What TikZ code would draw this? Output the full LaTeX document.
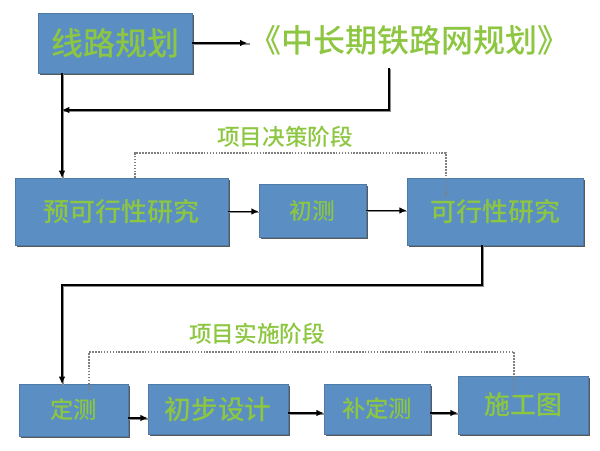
\documentclass[tikz,border=0pt]{standalone}
\usepackage{fontspec}
\newfontfamily\cjk{Noto Sans CJK SC}[UprightFont={* Medium},BoldFont={* Bold}]
\usetikzlibrary{arrows.meta,shadows}
\definecolor{boxblue}{HTML}{5B8FC4}
\definecolor{txtgreen}{HTML}{8DC641}
\tikzset{
  px/.style={x=0.75pt,y=-0.75pt},
  boxnode/.style={rectangle,fill=boxblue,draw=boxblue!85!black,line width=0.4pt,
    inner sep=0pt,text=txtgreen,font=\cjk,
    drop shadow={shadow xshift=1.3pt,shadow yshift=-1.3pt,fill=black!65,opacity=1}},
  conn/.style={line width=1.3pt,draw=black},
  connshadow/.style={line width=1.3pt,draw=black!45,transform canvas={xshift=0.8pt,yshift=-0.8pt}},
  arr/.style={-{Latex[length=5.5pt,width=5pt]}},
  dotline/.style={line width=1.2pt,draw=black!50,densely dotted},
  phaselabel/.style={text=txtgreen,font=\cjk\fontsize{17pt}{17pt}\selectfont,inner sep=0pt}
}
\begin{document}
\begin{tikzpicture}[px]
\useasboundingbox (0,0) rectangle (600,450);
% nodes
\node[boxnode,minimum width=154*0.75pt,minimum height=60*0.75pt,font=\cjk\fontsize{24pt}{24pt}\selectfont] (a) at (115,43) {线路规划};
\node[text=txtgreen,font=\cjk\fontsize{24pt}{24pt}\selectfont,inner sep=0pt] (title) at (409,40) {《中长期铁路网规划》};
\node[boxnode,minimum width=213*0.75pt,minimum height=67*0.75pt,font=\cjk\fontsize{19.5pt}{19.5pt}\selectfont] (b) at (121.5,211.5) {预可行性研究};
\node[boxnode,minimum width=107*0.75pt,minimum height=53*0.75pt,font=\cjk\fontsize{17pt}{17pt}\selectfont] (c) at (312.5,210.5) {初测};
\node[boxnode,minimum width=176*0.75pt,minimum height=67*0.75pt,font=\cjk\fontsize{19.5pt}{19.5pt}\selectfont] (d) at (495,211.5) {可行性研究};
\node[boxnode,minimum width=109*0.75pt,minimum height=52*0.75pt,font=\cjk\fontsize{17.5pt}{17.5pt}\selectfont] (e) at (73.5,410) {定测};
\node[boxnode,minimum width=140*0.75pt,minimum height=50*0.75pt,font=\cjk\fontsize{20pt}{20pt}\selectfont] (f) at (218,409) {初步设计};
\node[boxnode,minimum width=106*0.75pt,minimum height=50*0.75pt,font=\cjk\fontsize{17.5pt}{17.5pt}\selectfont] (g) at (377,409) {补定测};
\node[boxnode,minimum width=130*0.75pt,minimum height=58*0.75pt,font=\cjk\fontsize{19.5pt}{19.5pt}\selectfont] (h) at (523,405) {施工图};
\node[phaselabel] (p1) at (285,137) {项目决策阶段};
\node[phaselabel] (p2) at (257,334) {项目实施阶段};
% helper coordinates
\coordinate (a1) at (62,73);
\coordinate (r1) at (389,68);
\coordinate (r2) at (62,110);
\coordinate (b1) at (62,178);
\coordinate (d1) at (482,245);
\coordinate (e1) at (62,384);
\coordinate (q1) at (135,178);
\coordinate (q2) at (446,197);
\coordinate (s1) at (89,390);
\coordinate (s2) at (514,395);
% dotted phase brackets
\draw[dotline] (q1) -- (135,153) -- (446,153) -- (q2);
\draw[dotline] (s1) -- (89,352) -- (514,352) -- (s2);
% connector shadows
\begin{scope}
\draw[connshadow] (a.east) -- (a.east -| title.west);
\draw[connshadow] (r1) |- (r2);
\draw[connshadow] (a1) -- (b1);
\draw[connshadow] (b.east) -- (b.east -| c.west);
\draw[connshadow] (c.east) -- (c.east -| d.west);
\draw[connshadow] (d1) |- (62,285) -- (e1);
\draw[connshadow] (e.east |- 0,418) -- (f.west |- 0,418);
\draw[connshadow] (f.east |- 0,413) -- (g.west |- 0,413);
\draw[connshadow] (g.east |- 0,413) -- (h.west |- 0,413);
\end{scope}
% connectors
\draw[conn,arr] (a.east) -- ([xshift=-1pt]a.east -| title.west);
\draw[conn,arr] (r1) |- (r2);
\draw[conn,arr] (a1) -- (b1);
\draw[conn,arr] (b.east) -- (b.east -| c.west);
\draw[conn,arr] (c.east) -- (c.east -| d.west);
\draw[conn,arr] (d1) |- (62,285) -- (e1);
\draw[conn,arr] (e.east |- 0,418) -- (f.west |- 0,418);
\draw[conn,arr] (f.east |- 0,413) -- (g.west |- 0,413);
\draw[conn,arr] (g.east |- 0,413) -- (h.west |- 0,413);
\end{tikzpicture}
\end{document}
